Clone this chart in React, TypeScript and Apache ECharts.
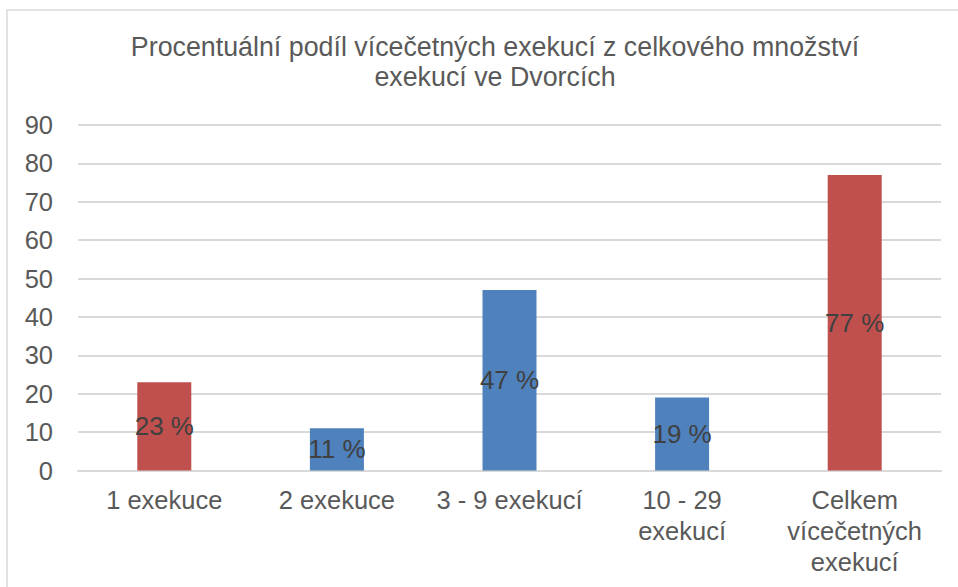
import React, { useEffect, useRef } from "react";
import * as echarts from "echarts";

const categories = ["1 exekuce", "2 exekuce", "3 - 9 exekucí", "10 - 29\nexekucí", "Celkem\nvícečetných\nexekucí"];
const values = [23, 11, 47, 19, 77];
const barColors = ["#C0504D", "#4F81BD", "#4F81BD", "#4F81BD", "#C0504D"];
const titleText = "Procentuální podíl vícečetných exekucí z celkového množství\nexekucí ve Dvorcích";

export default function App() {
  const ref = useRef<HTMLDivElement>(null);
  useEffect(() => {
    const chart = echarts.init(ref.current!, null, { renderer: "svg" });
    chart.setOption({
      animation: false,
      backgroundColor: "#fff",
      title: {
        text: titleText,
        left: 490,
        top: 27,
        textAlign: "center",
        textStyle: {
          fontFamily: "Liberation Sans",
          fontSize: 26.8,
          fontWeight: "normal",
          color: "#595959",
          lineHeight: 30,
        },
      },
      graphic: [
        {
          type: "rect",
          shape: { x: 7, y: 10, width: 1000, height: 700 },
          style: { fill: "none", stroke: "#D9D9D9", lineWidth: 1.5 },
          silent: true,
          z: -1,
        },
      ],
      grid: { left: 78, right: 17, top: 125, bottom: 587 - 470.5 },
      xAxis: {
        type: "category",
        data: categories,
        axisLine: { show: true, lineStyle: { color: "#D9D9D9", width: 2 } },
        axisTick: { show: false },
        axisLabel: {
          fontFamily: "Liberation Sans",
          fontSize: 25.5,
          color: "#595959",
          lineHeight: 31,
          margin: 14,
          interval: 0,
        },
      },
      yAxis: {
        type: "value",
        min: 0,
        max: 90,
        interval: 10,
        axisLine: { show: false },
        axisTick: { show: false },
        splitLine: { lineStyle: { color: "#D9D9D9", width: 2 } },
        axisLabel: {
          fontFamily: "Liberation Sans",
          fontSize: 25.5,
          color: "#595959",
          margin: 25,
        },
      },
      series: [
        {
          type: "bar",
          barWidth: 54,
          data: values.map((v, i) => ({ value: v, itemStyle: { color: barColors[i] } })),
          label: {
            show: true,
            position: "inside",
            formatter: (p: any) => p.value + " %",
            fontFamily: "Liberation Sans",
            fontSize: 26,
            color: "#404040",
          },
        },
      ],
    });
    return () => chart.dispose();
  }, []);
  return (
    <div
      ref={ref}
      style={{ position: "fixed", left: 0, top: 0, width: 958, height: 587 }}
    />
  );
}
